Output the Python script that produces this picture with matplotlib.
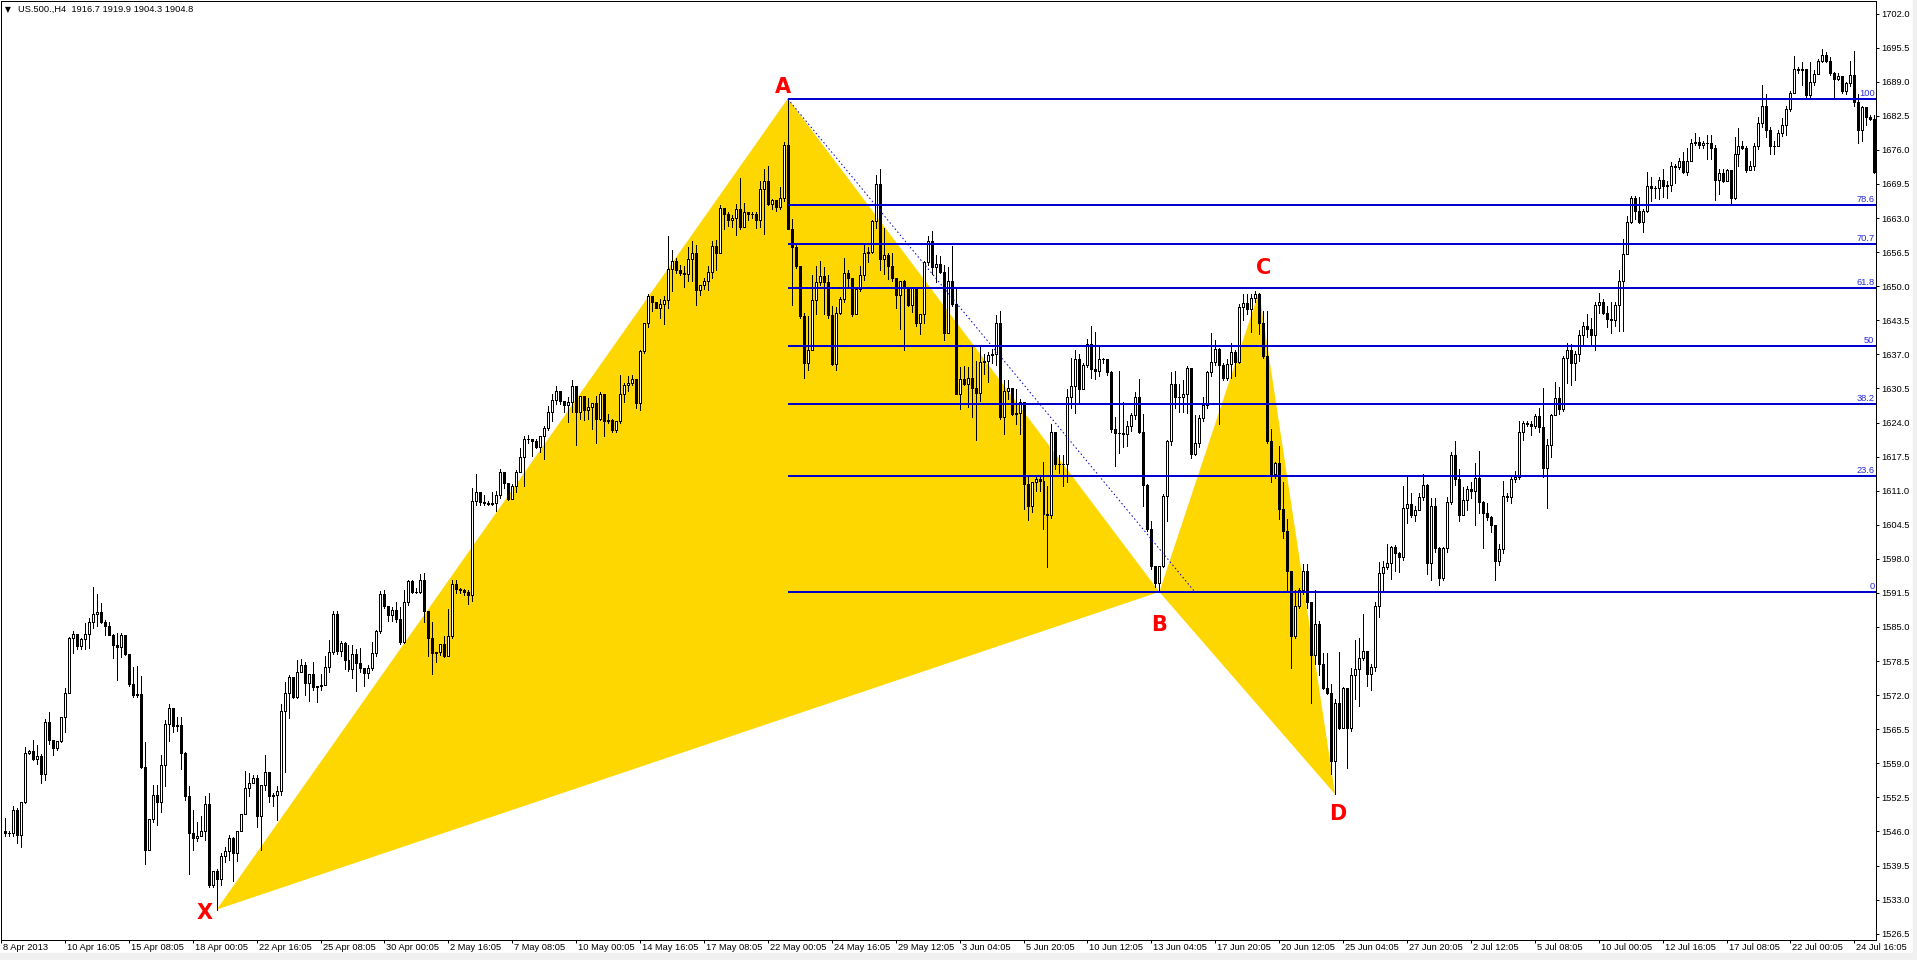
import numpy as np
import matplotlib
matplotlib.use("Agg")
import matplotlib.pyplot as plt
from matplotlib.patches import Polygon, Rectangle

# ---------------- data (US.500 H4) ----------------
header = "US.500.,H4  1916.7 1919.9 1904.3 1904.8"

first_open = 1546.0

closes = [
    1545.7, 1545.8, 1550.1, 1545.4, 1551.7, 1560.9, 1561.4, 1559.8, 1560.4, 1556.9,
    1566.9, 1563.5, 1561.9, 1563.3, 1567.8, 1572.4, 1582.9, 1583.7, 1581.3, 1582.7,
    1583.7, 1585.9, 1587.5, 1587.8, 1585.9, 1585.2, 1583.4, 1581.5, 1581.2, 1583.4,
    1579.8, 1574.1, 1572.1, 1572.2, 1558.3, 1542.4, 1548.4, 1552.9, 1551.7, 1558.7,
    1566.5, 1569.5, 1566.2, 1566.3, 1560.9, 1552.7, 1545.7, 1544.7, 1545.2, 1546.0,
    1551.2, 1535.7, 1538.4, 1536.9, 1541.4, 1542.3, 1544.7, 1541.9, 1546.0, 1549.3,
    1554.3, 1555.3, 1556.2, 1548.9, 1554.9, 1557.3, 1552.7, 1552.9, 1553.7, 1569.0,
    1572.4, 1575.4, 1571.7, 1576.4, 1577.7, 1574.3, 1576.1, 1573.5, 1573.7, 1574.0,
    1577.3, 1580.2, 1587.5, 1580.5, 1582.0, 1578.7, 1577.0, 1579.8, 1578.1, 1577.1,
    1576.2, 1577.1, 1580.0, 1584.3, 1591.3, 1589.0, 1587.3, 1588.3, 1586.6, 1582.2,
    1589.7, 1593.8, 1591.6, 1591.6, 1594.0, 1588.0, 1582.9, 1580.1, 1580.3, 1581.7,
    1579.4, 1583.3, 1593.2, 1592.2, 1592.0, 1591.6, 1591.1, 1609.0, 1610.8, 1608.8,
    1608.6, 1608.5, 1608.6, 1610.2, 1614.6, 1612.4, 1609.5, 1611.9, 1614.6, 1617.4,
    1620.9, 1620.9, 1620.4, 1619.4, 1621.4, 1623.0, 1626.0, 1628.3, 1630.1, 1628.2,
    1627.4, 1627.9, 1630.9, 1626.0, 1629.0, 1626.3, 1627.0, 1627.7, 1624.7, 1629.5,
    1624.3, 1624.5, 1622.6, 1624.3, 1629.4, 1631.1, 1631.6, 1632.3, 1627.7, 1637.6,
    1642.9, 1648.2, 1646.9, 1645.9, 1646.7, 1647.3, 1653.3, 1654.9, 1653.0, 1652.5,
    1652.4, 1655.2, 1656.4, 1649.3, 1650.2, 1650.9, 1652.7, 1657.6, 1656.4, 1664.9,
    1663.7, 1662.6, 1663.0, 1664.8, 1661.3, 1664.1, 1663.7, 1663.7, 1662.7, 1668.6,
    1670.0, 1665.7, 1666.4, 1665.1, 1666.8, 1677.0, 1661.0, 1657.5, 1653.8, 1644.4,
    1635.4, 1637.9, 1647.4, 1650.8, 1652.0, 1650.8, 1644.5, 1635.2, 1644.9, 1647.6,
    1652.5, 1651.6, 1644.7, 1649.5, 1652.2, 1656.4, 1656.6, 1662.4, 1669.5, 1655.2,
    1655.9, 1653.8, 1651.5, 1648.4, 1650.9, 1649.8, 1646.4, 1649.8, 1642.9, 1644.7,
    1654.6, 1658.6, 1653.7, 1654.2, 1652.7, 1641.0, 1650.9, 1646.6, 1629.4, 1632.3,
    1631.4, 1632.5, 1630.6, 1629.6, 1635.6, 1635.8, 1636.8, 1637.0, 1643.0, 1625.1,
    1630.0, 1630.6, 1625.6, 1625.9, 1628.0, 1612.3, 1608.1, 1612.7, 1613.2, 1612.9,
    1606.5, 1606.3, 1622.2, 1616.0, 1616.0, 1616.0, 1628.8, 1630.9, 1636.2, 1630.4,
    1634.9, 1638.9, 1634.2, 1633.9, 1636.2, 1636.1, 1633.6, 1622.8, 1622.0, 1622.0,
    1621.8, 1623.4, 1625.5, 1628.8, 1622.2, 1612.1, 1603.6, 1596.7, 1593.4, 1596.7,
    1609.9, 1620.5, 1631.4, 1628.8, 1628.8, 1629.4, 1634.4, 1618.0, 1620.1, 1624.8,
    1627.3, 1633.7, 1635.6, 1638.0, 1635.0, 1632.5, 1635.2, 1637.5, 1635.6, 1646.0,
    1646.8, 1645.7, 1647.8, 1648.5, 1643.0, 1636.6, 1620.4, 1614.1, 1616.2, 1607.5,
    1603.3, 1595.7, 1583.3, 1589.1, 1592.0, 1595.7, 1589.8, 1579.6, 1585.6, 1578.0,
    1573.4, 1572.4, 1559.5, 1570.5, 1565.8, 1573.4, 1565.8, 1575.9, 1576.9, 1579.0,
    1580.4, 1576.0, 1577.4, 1589.1, 1595.3, 1596.5, 1597.2, 1600.3, 1599.2, 1598.4,
    1607.7, 1608.4, 1606.3, 1607.4, 1609.8, 1612.1, 1597.3, 1608.0, 1600.0, 1594.3,
    1600.0, 1608.9, 1617.9, 1613.3, 1606.3, 1609.3, 1611.4, 1610.9, 1613.5, 1608.9,
    1606.8, 1605.9, 1604.5, 1597.5, 1599.9, 1610.0, 1609.8, 1613.3, 1613.7, 1622.2,
    1623.9, 1623.7, 1623.4, 1625.3, 1623.2, 1615.4, 1619.7, 1625.5, 1628.7, 1626.5,
    1636.4, 1637.9, 1635.4, 1637.0, 1640.7, 1642.4, 1641.9, 1640.7, 1646.5, 1647.0,
    1644.9, 1643.8, 1643.5, 1646.5, 1650.9, 1656.1, 1662.2, 1666.9, 1664.4, 1662.2,
    1664.4, 1669.2, 1668.7, 1668.7, 1670.3, 1669.2, 1669.3, 1673.0, 1672.7, 1673.8,
    1671.8, 1673.8, 1677.3, 1677.5, 1677.0, 1677.3, 1677.3, 1676.4, 1670.3, 1671.5,
    1670.1, 1672.1, 1666.9, 1675.2, 1676.7, 1676.4, 1672.1, 1673.0, 1676.7, 1681.2,
    1684.4, 1679.8, 1676.7, 1676.7, 1679.3, 1680.7, 1683.8, 1686.9, 1691.4, 1691.2,
    1691.5, 1686.5, 1689.0, 1690.4, 1693.0, 1694.1, 1693.0, 1690.6, 1689.5, 1690.0,
    1687.2, 1688.8, 1690.2, 1685.1, 1679.8, 1684.1, 1682.3, 1681.9, 1671.8,
]

highs = [
    1548.5, 1546.0, 1550.8, 1550.5, 1551.7, 1562.2, 1561.6, 1563.5, 1562.5, 1560.8,
    1567.5, 1568.8, 1563.0, 1563.3, 1567.8, 1573.3, 1583.0, 1584.3, 1582.9, 1582.9,
    1585.7, 1586.7, 1592.6, 1591.2, 1589.5, 1586.4, 1585.9, 1583.7, 1583.9, 1583.9,
    1582.9, 1579.8, 1577.3, 1577.6, 1575.7, 1563.0, 1548.4, 1554.9, 1554.9, 1560.6,
    1567.3, 1570.3, 1568.6, 1567.9, 1567.9, 1561.1, 1554.6, 1550.1, 1547.9, 1548.9,
    1552.7, 1553.3, 1538.4, 1538.8, 1541.9, 1543.0, 1545.4, 1545.0, 1546.0, 1549.3,
    1557.5, 1557.1, 1556.8, 1556.8, 1554.9, 1560.6, 1556.2, 1553.3, 1554.6, 1570.4,
    1574.6, 1575.9, 1575.2, 1578.7, 1578.9, 1578.4, 1576.1, 1578.4, 1573.7, 1576.0,
    1579.4, 1582.5, 1588.0, 1588.1, 1582.4, 1582.1, 1581.6, 1581.5, 1580.8, 1581.0,
    1576.3, 1577.8, 1582.2, 1584.5, 1591.8, 1592.0, 1588.9, 1588.8, 1589.7, 1588.9,
    1592.0, 1594.0, 1594.0, 1592.4, 1595.1, 1595.3, 1588.0, 1586.0, 1580.3, 1581.7,
    1583.3, 1588.5, 1594.0, 1594.0, 1592.4, 1592.2, 1592.0, 1611.5, 1614.1, 1610.4,
    1610.1, 1609.0, 1610.8, 1610.9, 1615.2, 1614.6, 1612.4, 1612.3, 1615.0, 1619.2,
    1621.4, 1621.6, 1620.9, 1620.9, 1621.4, 1623.3, 1627.2, 1629.4, 1630.9, 1630.1,
    1628.2, 1628.9, 1632.1, 1630.9, 1629.0, 1629.0, 1628.7, 1627.7, 1629.0, 1629.9,
    1626.0, 1625.7, 1624.7, 1624.3, 1633.0, 1631.6, 1632.8, 1633.0, 1632.1, 1637.9,
    1643.0, 1648.6, 1648.0, 1646.9, 1647.6, 1648.1, 1659.5, 1656.9, 1655.4, 1654.0,
    1653.8, 1657.5, 1658.6, 1657.8, 1650.2, 1651.6, 1653.8, 1658.6, 1658.9, 1665.5,
    1664.2, 1664.2, 1663.5, 1665.6, 1670.6, 1665.9, 1664.2, 1664.2, 1664.2, 1670.0,
    1672.4, 1672.9, 1666.6, 1666.4, 1669.0, 1677.5, 1685.8, 1662.9, 1657.8, 1653.8,
    1644.9, 1644.4, 1652.2, 1653.8, 1654.9, 1653.7, 1652.2, 1646.2, 1646.0, 1648.0,
    1655.4, 1653.1, 1651.6, 1649.5, 1653.8, 1657.8, 1657.5, 1662.7, 1671.2, 1672.4,
    1661.1, 1656.4, 1656.4, 1651.5, 1650.9, 1651.1, 1649.8, 1649.8, 1649.8, 1644.7,
    1654.9, 1659.5, 1660.5, 1655.9, 1655.7, 1654.0, 1653.6, 1657.6, 1649.9, 1634.6,
    1634.7, 1634.6, 1638.5, 1635.8, 1638.5, 1637.0, 1637.5, 1638.0, 1644.5, 1645.3,
    1632.1, 1632.1, 1630.4, 1630.4, 1628.4, 1627.7, 1613.7, 1612.7, 1613.7, 1613.7,
    1616.4, 1611.8, 1623.8, 1617.9, 1617.9, 1617.9, 1630.4, 1636.4, 1637.9, 1637.0,
    1635.4, 1639.9, 1642.4, 1641.3, 1638.7, 1636.4, 1636.1, 1633.9, 1625.1, 1633.9,
    1628.0, 1624.2, 1625.9, 1629.8, 1632.3, 1625.6, 1612.3, 1605.2, 1596.5, 1596.7,
    1610.4, 1620.7, 1633.7, 1633.9, 1631.4, 1632.1, 1634.7, 1634.4, 1625.5, 1625.5,
    1628.8, 1633.9, 1641.0, 1639.7, 1638.3, 1635.4, 1636.2, 1639.1, 1637.9, 1646.6,
    1648.6, 1648.6, 1648.5, 1649.0, 1648.8, 1645.3, 1645.3, 1622.8, 1616.5, 1619.5,
    1612.7, 1605.6, 1595.7, 1592.0, 1592.4, 1597.0, 1597.0, 1589.8, 1592.0, 1586.2,
    1580.0, 1580.0, 1574.2, 1571.3, 1580.2, 1573.6, 1573.4, 1577.1, 1582.5, 1582.9,
    1587.4, 1580.4, 1578.0, 1589.8, 1597.4, 1597.5, 1600.8, 1600.5, 1600.7, 1599.4,
    1611.8, 1613.7, 1610.5, 1608.0, 1610.5, 1614.2, 1612.3, 1609.6, 1609.6, 1600.3,
    1600.3, 1609.8, 1618.3, 1620.4, 1615.1, 1611.7, 1611.9, 1612.6, 1616.3, 1618.5,
    1609.1, 1608.6, 1606.1, 1604.3, 1600.8, 1612.8, 1610.5, 1613.9, 1614.8, 1624.3,
    1624.3, 1624.3, 1624.3, 1625.7, 1626.7, 1630.5, 1620.9, 1625.7, 1631.7, 1630.8,
    1636.6, 1639.1, 1638.9, 1637.6, 1641.6, 1643.1, 1644.7, 1644.0, 1647.0, 1648.7,
    1647.5, 1646.2, 1647.0, 1647.0, 1653.0, 1659.0, 1663.4, 1667.3, 1667.3, 1667.1,
    1664.7, 1671.8, 1670.8, 1669.2, 1670.8, 1672.4, 1670.1, 1673.6, 1673.3, 1674.5,
    1675.6, 1676.4, 1678.0, 1679.3, 1678.4, 1677.7, 1678.9, 1678.9, 1677.0, 1672.4,
    1672.4, 1672.4, 1672.1, 1678.4, 1680.1, 1677.7, 1676.7, 1673.8, 1677.3, 1682.3,
    1688.4, 1686.7, 1680.3, 1677.7, 1679.8, 1682.1, 1684.4, 1687.2, 1693.9, 1691.8,
    1692.7, 1691.4, 1692.7, 1691.2, 1693.4, 1695.2, 1694.6, 1693.7, 1690.9, 1690.6,
    1689.0, 1689.0, 1693.0, 1694.9, 1686.7, 1684.4, 1683.8, 1682.6, 1682.6,
]

lows = [
    1545.1, 1545.2, 1545.1, 1543.8, 1543.0, 1551.4, 1560.8, 1559.7, 1558.9, 1555.3,
    1555.9, 1562.7, 1560.6, 1561.6, 1563.0, 1564.9, 1572.7, 1580.1, 1580.8, 1580.8,
    1580.8, 1581.0, 1584.8, 1585.2, 1585.7, 1583.5, 1583.4, 1579.0, 1574.8, 1579.2,
    1579.7, 1573.7, 1571.7, 1571.7, 1558.1, 1539.8, 1544.1, 1547.9, 1547.3, 1549.7,
    1554.6, 1563.2, 1564.9, 1565.1, 1557.9, 1552.0, 1537.9, 1542.5, 1544.2, 1545.1,
    1544.4, 1535.5, 1535.5, 1531.1, 1535.8, 1540.1, 1540.6, 1536.5, 1540.3, 1546.2,
    1549.5, 1552.7, 1555.2, 1546.8, 1542.5, 1553.9, 1551.7, 1550.8, 1548.2, 1553.0,
    1557.3, 1567.6, 1571.4, 1571.4, 1576.5, 1572.1, 1570.8, 1573.0, 1570.6, 1573.0,
    1574.0, 1576.4, 1579.9, 1579.9, 1579.4, 1577.0, 1576.7, 1575.2, 1572.7, 1576.5,
    1573.7, 1575.2, 1576.8, 1579.4, 1583.8, 1588.6, 1586.2, 1586.2, 1585.9, 1581.8,
    1581.9, 1589.2, 1591.4, 1591.4, 1591.4, 1585.9, 1579.4, 1576.0, 1578.4, 1579.7,
    1579.2, 1579.4, 1582.9, 1591.4, 1591.4, 1591.1, 1589.4, 1590.0, 1608.2, 1608.2,
    1608.2, 1608.2, 1608.2, 1607.1, 1609.7, 1611.5, 1609.3, 1609.8, 1610.8, 1614.6,
    1611.9, 1620.0, 1617.7, 1619.2, 1618.4, 1617.0, 1622.5, 1624.3, 1627.6, 1627.6,
    1626.1, 1624.1, 1626.1, 1619.7, 1624.7, 1624.5, 1624.7, 1622.8, 1620.1, 1624.5,
    1621.4, 1623.9, 1622.2, 1622.2, 1623.9, 1627.9, 1630.1, 1631.2, 1626.8, 1626.3,
    1637.2, 1642.3, 1645.2, 1645.8, 1644.0, 1642.7, 1645.8, 1649.1, 1652.5, 1652.2,
    1649.8, 1650.9, 1650.9, 1646.4, 1648.4, 1649.5, 1649.3, 1651.6, 1653.1, 1656.4,
    1661.0, 1661.5, 1661.3, 1659.7, 1661.0, 1661.7, 1662.6, 1663.0, 1661.1, 1661.3,
    1660.0, 1665.5, 1664.8, 1664.4, 1664.8, 1666.2, 1661.0, 1646.4, 1653.5, 1644.0,
    1632.5, 1634.1, 1638.4, 1644.7, 1650.2, 1644.7, 1644.0, 1635.0, 1634.1, 1644.7,
    1646.9, 1649.8, 1644.4, 1644.7, 1649.1, 1651.1, 1654.6, 1656.4, 1661.1, 1653.1,
    1652.4, 1651.3, 1650.9, 1645.8, 1641.8, 1637.9, 1646.2, 1645.1, 1642.5, 1640.9,
    1642.9, 1654.0, 1652.4, 1650.8, 1652.5, 1639.7, 1641.2, 1646.2, 1629.4, 1626.5,
    1631.1, 1627.0, 1625.1, 1620.7, 1628.1, 1633.3, 1631.8, 1635.4, 1635.0, 1624.7,
    1621.8, 1628.4, 1625.5, 1623.8, 1621.8, 1607.5, 1605.5, 1606.9, 1611.0, 1611.0,
    1603.6, 1596.5, 1605.8, 1615.1, 1614.3, 1611.8, 1612.7, 1626.7, 1625.9, 1628.0,
    1633.3, 1634.6, 1632.5, 1632.3, 1632.9, 1635.4, 1633.1, 1622.2, 1615.7, 1618.2,
    1619.3, 1619.5, 1622.3, 1624.7, 1622.0, 1608.1, 1603.3, 1596.1, 1592.6, 1591.7,
    1596.5, 1605.2, 1619.7, 1626.7, 1626.1, 1626.1, 1625.9, 1617.2, 1617.9, 1619.3,
    1624.2, 1626.7, 1632.9, 1635.0, 1623.7, 1632.1, 1632.1, 1632.5, 1632.9, 1635.4,
    1643.5, 1644.7, 1641.2, 1647.0, 1640.8, 1636.4, 1620.1, 1612.7, 1613.5, 1605.6,
    1601.9, 1592.0, 1577.1, 1582.9, 1588.7, 1591.2, 1588.7, 1570.5, 1578.0, 1575.9,
    1573.2, 1572.2, 1556.9, 1553.1, 1565.5, 1566.1, 1558.1, 1565.1, 1571.3, 1569.9,
    1578.8, 1573.8, 1573.0, 1576.7, 1587.0, 1592.0, 1596.1, 1594.2, 1595.7, 1595.5,
    1597.8, 1604.9, 1605.9, 1605.2, 1607.3, 1609.3, 1595.2, 1593.9, 1599.4, 1593.0,
    1593.9, 1599.4, 1608.4, 1612.1, 1605.2, 1606.3, 1607.4, 1609.6, 1604.5, 1606.8,
    1600.0, 1605.4, 1603.1, 1593.9, 1596.9, 1599.1, 1609.1, 1608.6, 1612.6, 1613.3,
    1620.7, 1623.4, 1621.6, 1623.0, 1622.2, 1613.7, 1607.7, 1617.4, 1628.0, 1625.7,
    1626.2, 1631.5, 1631.1, 1632.2, 1635.7, 1638.9, 1640.3, 1638.7, 1637.9, 1644.9,
    1644.7, 1642.2, 1641.0, 1642.4, 1641.4, 1641.4, 1658.1, 1662.0, 1662.9, 1662.0,
    1660.4, 1664.1, 1666.2, 1666.9, 1666.6, 1667.1, 1666.9, 1668.2, 1669.6, 1672.4,
    1671.5, 1671.2, 1673.8, 1677.0, 1676.4, 1676.4, 1674.3, 1674.3, 1666.4, 1667.5,
    1669.9, 1670.3, 1665.5, 1666.6, 1673.0, 1676.1, 1671.8, 1672.1, 1672.1, 1676.1,
    1680.3, 1678.4, 1675.2, 1675.2, 1676.7, 1678.6, 1678.9, 1683.5, 1690.6, 1690.6,
    1688.4, 1686.0, 1685.8, 1688.4, 1690.6, 1692.7, 1692.7, 1690.2, 1686.0, 1689.3,
    1686.9, 1686.7, 1688.1, 1684.4, 1677.3, 1677.7, 1680.7, 1681.7, 1671.5,
]

date_labels = [
    "8 Apr 2013", "10 Apr 16:05", "15 Apr 08:05", "18 Apr 00:05", "22 Apr 16:05",
    "25 Apr 08:05", "30 Apr 00:05", "2 May 16:05", "7 May 08:05", "10 May 00:05",
    "14 May 16:05", "17 May 08:05", "22 May 00:05", "24 May 16:05", "29 May 12:05",
    "3 Jun 04:05", "5 Jun 20:05", "10 Jun 12:05", "13 Jun 04:05", "17 Jun 20:05",
    "20 Jun 12:05", "25 Jun 04:05", "27 Jun 20:05", "2 Jul 12:05", "5 Jul 08:05",
    "10 Jul 00:05", "12 Jul 16:05", "17 Jul 08:05", "22 Jul 00:05", "24 Jul 16:05",
]
bars_per_label = 16

price_ticks = [
    1526.5, 1533.0, 1539.5, 1546.0, 1552.5, 1559.0, 1565.5, 1572.0, 1578.5, 1585.0,
    1591.5, 1598.0, 1604.5, 1611.0, 1617.5, 1624.0, 1630.5, 1637.0, 1643.5, 1650.0,
    1656.5, 1663.0, 1669.5, 1676.0, 1682.5, 1689.0, 1695.5, 1702.0,
]

# XABCD harmonic pattern points (bar index, price)
pattern_names = ["X", "A", "B", "C", "D"]
pattern_bars = [53, 196, 289, 314, 333]
pattern_prices = [1531.1, 1685.8, 1591.7, 1649.0, 1553.1]

# fibonacci retracement drawn from A down to the B low
fib_levels = [0, 23.6, 38.2, 50, 61.8, 70.7, 78.6, 100]
fib_bars = [196, 298]
fib_prices = [1685.7, 1591.6]

# ---------------- layout ----------------
W, H = 1917, 960
PT = 0.72  # points per pixel at dpi 100
plt.rcParams["font.family"] = ["Liberation Sans", "DejaVu Sans"]

fig = plt.figure(figsize=(W / 100, H / 100), dpi=100)
ax_l, ax_r, ax_t, ax_b = 1, 1876, 1, 940
ax = fig.add_axes([ax_l / W, 1 - ax_b / H, (ax_r - ax_l) / W, (ax_b - ax_t) / H])
x_lo, x_hi = (ax_l - 2.3) / 4, (ax_r - 2.3) / 4   # 4 px per bar
ax.set_xlim(x_lo, x_hi)
ax.set_ylim(1525.3, 1704.4)

# window border strips
fig.add_artist(Rectangle((0, 0), 1, 7 / H, transform=fig.transFigure,
                         color="#F0F0F0", zorder=0))
fig.add_artist(Rectangle((1913 / W, 0), 4 / W, 1, transform=fig.transFigure,
                         color="#F0F0F0", zorder=0))

# ---------------- pattern triangles ----------------
pts = list(zip(pattern_bars, pattern_prices))
ax.add_patch(Polygon(pts[0:3], closed=True, facecolor="#FFD700", edgecolor="none", zorder=1))
ax.add_patch(Polygon(pts[2:5], closed=True, facecolor="#FFD700", edgecolor="none", zorder=1))

# ---------------- candles ----------------
c = np.array(closes)
o = np.r_[first_open, c[:-1]]
hi = np.maximum(np.array(highs), np.maximum(o, c))
lo = np.minimum(np.array(lows), np.minimum(o, c))
x = np.arange(len(c))
up = c >= o

ax.vlines(x, lo, hi, color="black", lw=PT, zorder=3, antialiased=False)
ax.bar(x[up], (c - o)[up], bottom=o[up], width=0.5, facecolor="white",
       edgecolor="black", lw=PT, zorder=4, antialiased=False)
ax.bar(x[~up], (o - c)[~up], bottom=c[~up], width=0.5, facecolor="black",
       edgecolor="black", lw=PT, zorder=4, antialiased=False)

# ---------------- fibonacci ----------------
fib_blue = "#0000CD"
f_hi, f_lo = fib_prices
for lvl in fib_levels:
    y = f_lo + (f_hi - f_lo) * lvl / 100.0
    ax.hlines(y, fib_bars[0], x_hi, color=fib_blue, lw=2 * PT, zorder=5)
    ax.annotate(f"{lvl:g}", xy=(1, y), xycoords=("axes fraction", "data"),
                xytext=(-1.5 * PT, 1 * PT), textcoords="offset points",
                ha="right", va="bottom", fontsize=6.7, color="#2A2ADC", zorder=6)
ax.plot(fib_bars, fib_prices, color=fib_blue, lw=PT, ls=(0, (1.5, 2.5)), zorder=5)

# ---------------- XABCD labels ----------------
label_offsets = {"X": (-12.5, -1.5), "A": (-5, 13), "B": (0, -32), "C": (4, 25), "D": (3, -18)}
for name, bx, by in zip(pattern_names, pattern_bars, pattern_prices):
    dx, dy = label_offsets[name]
    ax.annotate(name, (bx, by), xytext=(dx * PT, (dy - 7.5) * PT), textcoords="offset points",
                ha="center", va="baseline", fontsize=15, fontweight="heavy",
                color="#FF0000", family="DejaVu Sans", zorder=7)

# ---------------- axes ----------------
for s in ax.spines.values():
    s.set_color("black")
    s.set_linewidth(PT)

ax.yaxis.tick_right()
ax.set_yticks(price_ticks)
ax.set_yticklabels([f"{p:.1f}" for p in price_ticks])
ax.tick_params(axis="y", direction="out", length=3 * PT, width=PT, pad=2 * PT,
               labelsize=6.7, colors="black")

tick_bars = [k * bars_per_label for k in range(len(date_labels))]
ax.set_xticks([b - 1 for b in tick_bars])
ax.set_xticklabels([])
ax.tick_params(axis="x", direction="out", length=3 * PT, width=PT)
for b, lab in zip(tick_bars, date_labels):
    ax.annotate(lab, xy=(b, 0), xycoords=("data", "axes fraction"),
                xytext=(-2 * PT, -2.5 * PT), textcoords="offset points",
                ha="left", va="top", fontsize=6.7, color="black",
                annotation_clip=False)

# header
fig.text(5 / W, 1 - 9.5 / H, "\u25BC", fontsize=5.5, va="center", ha="left",
         family="DejaVu Sans")
fig.text(18 / W, 1 - 9.5 / H, header, fontsize=6.7, va="center", ha="left")

fig.savefig("out.png", dpi=100)
